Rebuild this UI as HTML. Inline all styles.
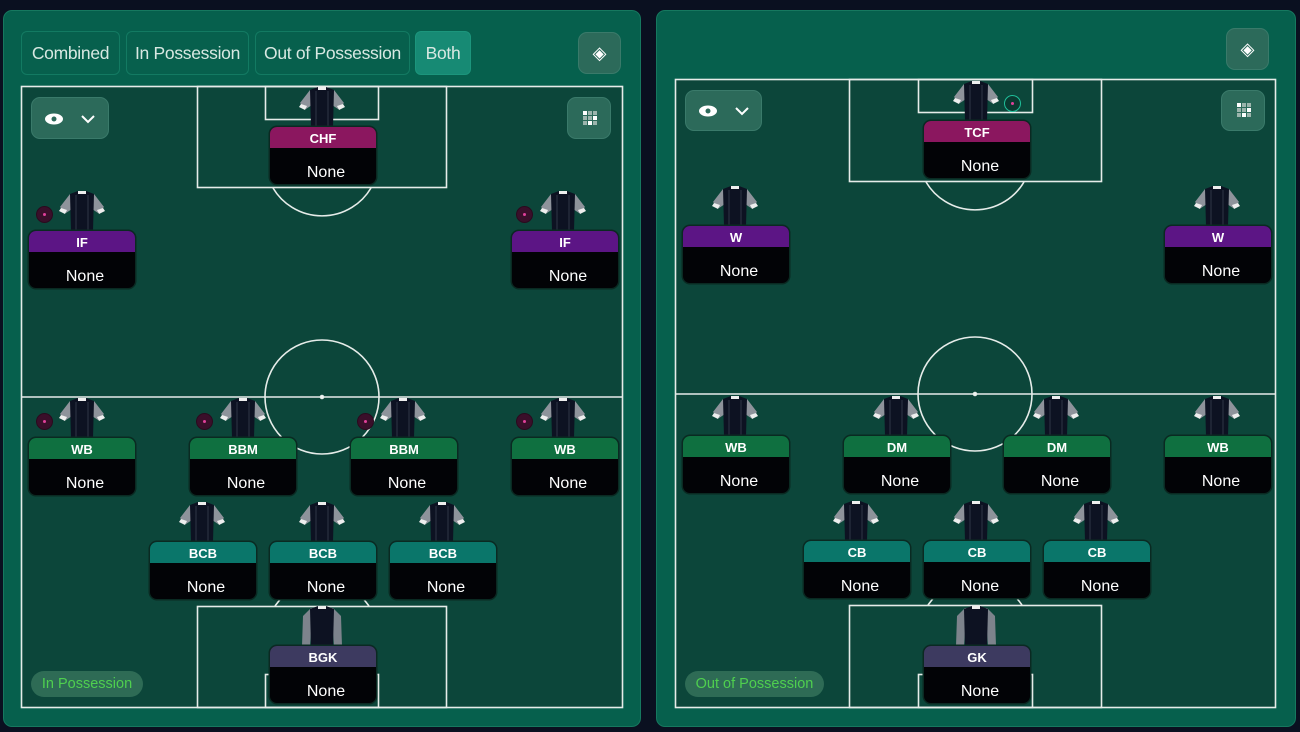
<!DOCTYPE html>
<html><head><meta charset="utf-8"><style>
*{margin:0;padding:0;box-sizing:border-box}
body{width:1300px;height:732px;background:#0a1020;position:relative;overflow:hidden;font-family:"Liberation Sans",sans-serif}
.panel{position:absolute;background:#06604d;border:1.5px solid #16785f;border-radius:9px}
.pitch{position:absolute;background:#0c463a}
.tab{position:absolute;top:31px;height:44px;border:1px solid #137a62;border-radius:6px;background:#07604d;color:#d8e8e2;font-size:17.5px;line-height:42px;text-align:center;letter-spacing:-0.3px}
.btn{position:absolute;background:#2c6a5a;border:1px solid #3a7a6a;border-radius:9px}
.card{position:absolute;width:106px;height:57px;border-radius:7px;background:#020306;box-shadow:0 0 0 1.5px #0a2a22;overflow:hidden}
.card .h{height:21px;color:#fff;font-weight:bold;font-size:13px;text-align:center;line-height:24px}
.card .n{position:absolute;left:6px;right:0;top:37px;text-align:center;color:#fff;font-size:16px}
.j{position:absolute;width:46px;height:40px}
.ball{position:absolute;width:17px;height:17px;border-radius:50%;background:#3a0f2a;border:1px solid #2a0a1e}
.ball:after{content:"";position:absolute;left:6px;top:6px;width:3px;height:3px;border-radius:50%;background:#e0409a}
.lbl{position:absolute;height:26px;border-radius:13px;background:#2e6b55;color:#4fcf4f;font-size:14.5px;line-height:26px;text-align:center}
.mag{background:#8b175f}.pur{background:#5c1585}.grn{background:#0f7040}.tea{background:#0a766a}.gk{background:#3d3a60}
</style></head><body>
<svg width="0" height="0" style="position:absolute"><defs>
<symbol id="jr" viewBox="0 0 46 40"><path d="M1 16 L11 3 L16 3 L16 16 L7 22 Z" fill="#8e939b"/><path d="M45 16 L35 3 L30 3 L30 16 L39 22 Z" fill="#8e939b"/><path d="M2 17 L0 20 L6 23 L8 19Z" fill="#eee"/><path d="M44 17 L46 20 L40 23 L38 19Z" fill="#eee"/><path d="M11 3 L19 0 L27 0 L35 3 L34 40 L12 40 Z" fill="#0d1222"/><rect x="19" y="0" width="8" height="3" fill="#eee"/><line x1="17" y1="4" x2="17" y2="40" stroke="#2a3040" stroke-width="1.2"/><line x1="29" y1="4" x2="29" y2="40" stroke="#2a3040" stroke-width="1.2"/></symbol>
<symbol id="jg" viewBox="0 0 46 40"><path d="M4 10 L12 2 L34 2 L42 10 L43 40 L35 40 L33 14 L13 14 L11 40 L3 40 Z" fill="#7d838c"/><path d="M11 3 L19 0 L27 0 L35 3 L34 40 L12 40 Z" fill="#0d1222"/><rect x="19" y="0" width="8" height="3" fill="#eee"/></symbol>
</defs></svg>

<!-- LEFT PANEL -->
<div class="panel" style="left:3px;top:10px;width:638px;height:717px"></div>
<div class="tab" style="left:21px;width:99px">Combined</div>
<div class="tab" style="left:126px;width:123px">In Possession</div>
<div class="tab" style="left:255px;width:155px">Out of Possession</div>
<div class="tab" style="left:415px;width:56px;background:#178a74;border-color:#1c957c">Both</div>
<div class="btn" style="left:578px;top:32px;width:43px;height:42px;color:#fff;font-size:18px;text-align:center;line-height:40px">◈</div>
<div class="pitch" style="left:21px;top:86px;width:602px;height:622px"></div>
<svg style="position:absolute;left:0;top:0" width="650" height="732" fill="none" stroke="#e6ece9" stroke-width="1.6">
<rect x="21.5" y="86.5" width="601" height="621"/>
<line x1="21" y1="397" x2="623" y2="397"/>
<circle cx="322" cy="397" r="57"/><circle cx="322" cy="397" r="1.5" fill="#fff"/>
<rect x="197.5" y="86.5" width="249" height="101"/><rect x="265.5" y="86.5" width="113" height="33"/>
<path d="M273 188 A57 57 0 0 0 371 188"/>
<rect x="197.5" y="606.5" width="249" height="101"/><rect x="265.5" y="674.5" width="113" height="33"/>
<path d="M275 606 A57 57 0 0 1 369 606"/>
</svg>
<div class="btn" style="left:31px;top:97px;width:78px;height:42px"><svg width="78" height="42"><ellipse cx="22" cy="21" rx="9" ry="5.5" fill="#fff"/><circle cx="22" cy="21" r="2.5" fill="#2c6a5a"/><path d="M50 18 L56 24 L62 18" stroke="#fff" stroke-width="2" fill="none"/></svg></div>
<div class="btn" style="left:567px;top:97px;width:44px;height:42px"><svg width="44" height="42"><g fill="#9cb5ad"><rect x="15" y="13" width="4" height="4" fill="#fff"/><rect x="20" y="13" width="4" height="4"/><rect x="25" y="13" width="4" height="4"/><rect x="15" y="18" width="4" height="4"/><rect x="20" y="18" width="4" height="4"/><rect x="25" y="18" width="4" height="4" fill="#fff"/><rect x="15" y="23" width="4" height="4"/><rect x="20" y="23" width="4" height="4" fill="#fff"/><rect x="25" y="23" width="4" height="4"/></g></svg></div>

<svg class="j" style="left:299px;top:87px"><use href="#jr"/></svg>
<div class="card" style="left:270px;top:127px"><div class="h mag">CHF</div><div class="n">None</div></div>
<div class="ball" style="left:36px;top:206px"></div><svg class="j" style="left:59px;top:191px"><use href="#jr"/></svg>
<div class="card" style="left:29px;top:231px"><div class="h pur">IF</div><div class="n">None</div></div>
<div class="ball" style="left:516px;top:206px"></div><svg class="j" style="left:540px;top:191px"><use href="#jr"/></svg>
<div class="card" style="left:512px;top:231px"><div class="h pur">IF</div><div class="n">None</div></div>

<div class="ball" style="left:36px;top:413px"></div><svg class="j" style="left:59px;top:398px"><use href="#jr"/></svg>
<div class="card" style="left:29px;top:438px"><div class="h grn">WB</div><div class="n">None</div></div>
<div class="ball" style="left:196px;top:413px"></div><svg class="j" style="left:220px;top:398px"><use href="#jr"/></svg>
<div class="card" style="left:190px;top:438px"><div class="h grn">BBM</div><div class="n">None</div></div>
<div class="ball" style="left:357px;top:413px"></div><svg class="j" style="left:380px;top:398px"><use href="#jr"/></svg>
<div class="card" style="left:351px;top:438px"><div class="h grn">BBM</div><div class="n">None</div></div>
<div class="ball" style="left:516px;top:413px"></div><svg class="j" style="left:540px;top:398px"><use href="#jr"/></svg>
<div class="card" style="left:512px;top:438px"><div class="h grn">WB</div><div class="n">None</div></div>

<svg class="j" style="left:179px;top:502px"><use href="#jr"/></svg>
<div class="card" style="left:150px;top:542px"><div class="h tea">BCB</div><div class="n">None</div></div>
<svg class="j" style="left:299px;top:502px"><use href="#jr"/></svg>
<div class="card" style="left:270px;top:542px"><div class="h tea">BCB</div><div class="n">None</div></div>
<svg class="j" style="left:419px;top:502px"><use href="#jr"/></svg>
<div class="card" style="left:390px;top:542px"><div class="h tea">BCB</div><div class="n">None</div></div>
<svg class="j" style="left:299px;top:606px"><use href="#jg"/></svg>
<div class="card" style="left:270px;top:646px"><div class="h gk">BGK</div><div class="n">None</div></div>
<div class="lbl" style="left:31px;top:671px;width:112px">In Possession</div>

<!-- RIGHT PANEL -->
<div class="panel" style="left:656px;top:10px;width:640px;height:717px"></div>
<div class="btn" style="left:1226px;top:28px;width:43px;height:42px;color:#fff;font-size:18px;text-align:center;line-height:40px">◈</div>
<div class="pitch" style="left:675px;top:79px;width:601px;height:629px"></div>
<svg style="position:absolute;left:650px;top:0" width="650" height="732" fill="none" stroke="#e6ece9" stroke-width="1.6">
<rect x="25.5" y="79.5" width="600" height="628"/>
<line x1="25" y1="394" x2="626" y2="394"/>
<circle cx="325" cy="394" r="57"/><circle cx="325" cy="394" r="1.5" fill="#fff"/>
<rect x="199.5" y="79.5" width="252" height="102"/><rect x="268.5" y="79.5" width="114" height="33"/>
<path d="M276 182 A57 57 0 0 0 374 182"/>
<rect x="199.5" y="605.5" width="252" height="102"/><rect x="268.5" y="674.5" width="114" height="33"/>
<path d="M278 605 A57 57 0 0 1 372 605"/>
</svg>
<div class="btn" style="left:685px;top:90px;width:77px;height:41px"><svg width="77" height="41"><ellipse cx="22" cy="20" rx="9" ry="5.5" fill="#fff"/><circle cx="22" cy="20" r="2.5" fill="#2c6a5a"/><path d="M50 17 L56 23 L62 17" stroke="#fff" stroke-width="2" fill="none"/></svg></div>
<div class="btn" style="left:1221px;top:90px;width:44px;height:41px"><svg width="44" height="41"><g fill="#9cb5ad"><rect x="15" y="12" width="4" height="4" fill="#fff"/><rect x="20" y="12" width="4" height="4"/><rect x="25" y="12" width="4" height="4"/><rect x="15" y="17" width="4" height="4"/><rect x="20" y="17" width="4" height="4"/><rect x="25" y="17" width="4" height="4" fill="#fff"/><rect x="15" y="22" width="4" height="4"/><rect x="20" y="22" width="4" height="4" fill="#fff"/><rect x="25" y="22" width="4" height="4"/></g></svg></div>

<svg class="j" style="left:953px;top:81px"><use href="#jr"/></svg>
<div class="ball" style="left:1004px;top:95px;background:#0a3a30;border-color:#1fbf9a"></div>
<div class="card" style="left:924px;top:121px"><div class="h mag">TCF</div><div class="n">None</div></div>
<svg class="j" style="left:712px;top:186px"><use href="#jr"/></svg>
<div class="card" style="left:683px;top:226px"><div class="h pur">W</div><div class="n">None</div></div>
<svg class="j" style="left:1194px;top:186px"><use href="#jr"/></svg>
<div class="card" style="left:1165px;top:226px"><div class="h pur">W</div><div class="n">None</div></div>

<svg class="j" style="left:712px;top:396px"><use href="#jr"/></svg>
<div class="card" style="left:683px;top:436px"><div class="h grn">WB</div><div class="n">None</div></div>
<svg class="j" style="left:873px;top:396px"><use href="#jr"/></svg>
<div class="card" style="left:844px;top:436px"><div class="h grn">DM</div><div class="n">None</div></div>
<svg class="j" style="left:1033px;top:396px"><use href="#jr"/></svg>
<div class="card" style="left:1004px;top:436px"><div class="h grn">DM</div><div class="n">None</div></div>
<svg class="j" style="left:1194px;top:396px"><use href="#jr"/></svg>
<div class="card" style="left:1165px;top:436px"><div class="h grn">WB</div><div class="n">None</div></div>

<svg class="j" style="left:833px;top:501px"><use href="#jr"/></svg>
<div class="card" style="left:804px;top:541px"><div class="h tea">CB</div><div class="n">None</div></div>
<svg class="j" style="left:953px;top:501px"><use href="#jr"/></svg>
<div class="card" style="left:924px;top:541px"><div class="h tea">CB</div><div class="n">None</div></div>
<svg class="j" style="left:1073px;top:501px"><use href="#jr"/></svg>
<div class="card" style="left:1044px;top:541px"><div class="h tea">CB</div><div class="n">None</div></div>
<svg class="j" style="left:953px;top:606px"><use href="#jg"/></svg>
<div class="card" style="left:924px;top:646px"><div class="h gk">GK</div><div class="n">None</div></div>
<div class="lbl" style="left:685px;top:671px;width:139px">Out of Possession</div>
</body></html>
